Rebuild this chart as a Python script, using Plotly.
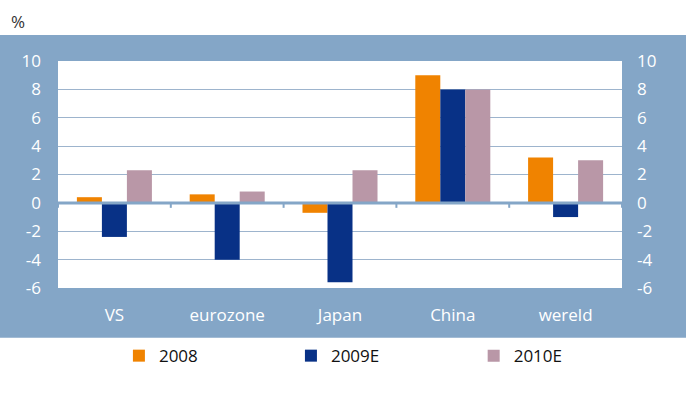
import plotly.graph_objects as go

categories = ["VS", "eurozone", "Japan", "China", "wereld"]
series_names = ["2008", "2009E", "2010E"]
v2008 = [0.4, 0.6, -0.7, 9.0, 3.2]
v2009 = [-2.4, -4.0, -5.6, 8.0, -1.0]
v2010 = [2.3, 0.8, 2.3, 8.0, 3.0]
tick_vals = [-6, -4, -2, 0, 2, 4, 6, 8, 10]
tick_text = ["-6", "-4", "-2", "0", "2", "4", "6", "8", "10"]

colors = ["#f08300", "#083186", "#b997a7"]
legend_ids = ["legend", "legend2", "legend3"]
legend_x = [0.108, 0.413, 0.737]
band = "#84a6c7"
font_main = "Open Sans"
fs = 17

fig = go.Figure()
for name, vals, c, lg in zip(series_names, [v2008, v2009, v2010], colors, legend_ids):
    fig.add_trace(go.Bar(x=categories, y=vals, name=name, legend=lg,
                         marker=dict(color=c, line=dict(width=0))))

# invisible trace for right axis
fig.add_trace(go.Scatter(x=categories, y=v2008, yaxis="y2", mode="markers",
                         marker=dict(opacity=0), showlegend=False, hoverinfo="skip"))

shapes = [
    dict(type="rect", xref="paper", yref="paper", x0=-0.2, x1=1.3, y0=-0.219, y1=1.114,
         fillcolor=band, line=dict(width=0), layer="below"),
    dict(type="rect", xref="paper", yref="paper", x0=0, x1=1, y0=0, y1=1,
         fillcolor="white", line=dict(width=0), layer="below"),
]
for i in range(len(categories) + 1):
    shapes.append(dict(type="line", xref="x", yref="y", x0=i - 0.5, x1=i - 0.5, y0=0, y1=-0.35,
                       line=dict(color=band, width=2), layer="above"))
shapes.append(dict(type="line", xref="paper", yref="y", x0=0, x1=1, y0=0, y1=0,
                   line=dict(color=band, width=3), layer="above"))

legend_common = dict(orientation="h", xanchor="left", y=-0.3, yanchor="middle",
                     font=dict(color="#111111", size=fs, family=font_main),
                     itemwidth=30, bgcolor="rgba(0,0,0,0)")
legends = {lg: dict(x=lx, **legend_common) for lg, lx in zip(legend_ids, legend_x)}

fig.update_layout(
    width=686, height=407,
    margin=dict(l=58, r=64, t=61, b=119, autoexpand=False),
    paper_bgcolor="white",
    plot_bgcolor="rgba(0,0,0,0)",
    barmode="group", bargap=0.335, bargroupgap=0,
    font=dict(family=font_main, size=fs, color="white"),
    shapes=shapes,
    showlegend=True,
    xaxis=dict(showgrid=False, showline=False, ticks="", tickfont=dict(color="white", size=fs),
               range=[-0.5, 4.5], ticklabelstandoff=15),
    yaxis=dict(range=[-6, 10], tickvals=tick_vals, ticktext=tick_text, showgrid=True,
               gridcolor="#9db4cd", gridwidth=1,
               zeroline=False, showline=False, ticks="", tickfont=dict(color="white", size=fs),
               ticklabelstandoff=16),
    yaxis2=dict(range=[-6, 10], tickvals=tick_vals, ticktext=tick_text, overlaying="y", side="right",
                showgrid=False, zeroline=False, showline=False, ticks="",
                tickfont=dict(color="white", size=fs), ticklabelstandoff=14),
    annotations=[dict(text="%", xref="paper", yref="paper", x=-0.087, y=1.175,
                      xanchor="left", yanchor="middle", showarrow=False,
                      font=dict(color="#333333", size=fs, family=font_main))],
    **legends,
)

fig.write_html("out.html", config={"displayModeBar": False},
               post_script="document.body.style.margin='0';")
